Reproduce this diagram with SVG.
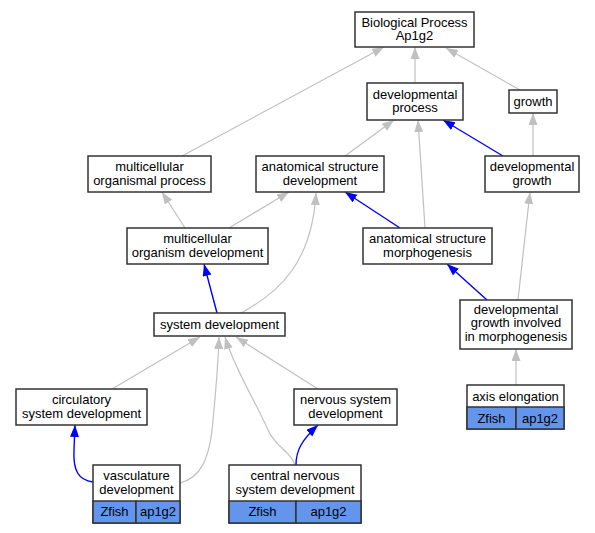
<svg xmlns="http://www.w3.org/2000/svg" width="595" height="533" viewBox="0 0 595 533">
<style>
  .box { fill: #ffffff; stroke: #333333; stroke-width: 1.5; }
  .cell { fill: #6495ED; stroke: #333333; stroke-width: 1.5; }
  text { font-family: "Liberation Sans", Arial, sans-serif; font-size: 13px; fill: #000; text-anchor: middle; }
  .g { fill: none; stroke: #c0c0c0; stroke-width: 1.2; marker-end: url(#ag); }
  .b { fill: none; stroke: #0000ff; stroke-width: 1.4; marker-end: url(#ab); }
</style>
<defs>
  <marker id="ag" markerUnits="userSpaceOnUse" markerWidth="13" markerHeight="10" refX="12" refY="4.5" orient="auto">
    <path d="M0,0 L12,4.5 L0,9 z" fill="#c0c0c0"/>
  </marker>
  <marker id="ab" markerUnits="userSpaceOnUse" markerWidth="13" markerHeight="10" refX="12" refY="4.5" orient="auto">
    <path d="M0,0 L12,4.5 L0,9 z" fill="#0000ff"/>
  </marker>
</defs>
<rect width="595" height="533" fill="#ffffff"/>
<g id="edges">
  <path class="g" d="M415,83 L415,47"/>
  <path class="g" d="M520,90 L446,48"/>
  <path class="g" d="M182,156 L384,47"/>
  <path class="g" d="M345,156 L394,120"/>
  <path class="g" d="M425,228 L418,120"/>
  <path class="b" d="M503,156 L443,120"/>
  <path class="g" d="M533,156 L533,113"/>
  <path class="g" d="M185,228 L162,192"/>
  <path class="g" d="M229,228 L289,192"/>
  <path class="b" d="M400,228 L345,192"/>
  <path class="b" d="M217,313 L204,264"/>
  <path class="g" d="M241,313 C280,292 312,262 316,193"/>
  <path class="b" d="M487,300 L447,264"/>
  <path class="g" d="M518,300 L530,192"/>
  <path class="g" d="M516,385 L516,349"/>
  <path class="g" d="M112,389 L200,337"/>
  <path class="g" d="M318,389 L236,337"/>
  <path class="g" d="M180,483 C200,478 210,460 213,420 C216,390 218,365 219,337"/>
  <path class="g" d="M295,465 C290,450 276,448 268,430 C255,400 235,370 225,337"/>
  <path class="b" d="M93,482 C78,480 73,470 74,450 L75,425"/>
  <path class="b" d="M296,465 C296,450 302,440 318,425"/>
</g>
<g id="n_bp">
  <rect class="box" x="355" y="12" width="119" height="35"/>
  <text x="414.5" y="26.5">Biological Process</text>
  <text x="414.5" y="40">Ap1g2</text>
</g>
<g id="n_dp">
  <rect class="box" x="367" y="83" width="96" height="37"/>
  <text x="415" y="98.5">developmental</text>
  <text x="415" y="112">process</text>
</g>
<g id="n_growth">
  <rect class="box" x="509" y="90" width="48" height="23"/>
  <text x="533" y="106">growth</text>
</g>
<g id="n_dg">
  <rect class="box" x="485" y="156" width="94" height="36"/>
  <text x="532" y="171">developmental</text>
  <text x="532" y="184.5">growth</text>
</g>
<g id="n_mop">
  <rect class="box" x="88" y="156" width="123" height="36"/>
  <text x="149.5" y="171">multicellular</text>
  <text x="149.5" y="184.5">organismal process</text>
</g>
<g id="n_asd">
  <rect class="box" x="256" y="156" width="128" height="36"/>
  <text x="320" y="171">anatomical structure</text>
  <text x="320" y="184.5">development</text>
</g>
<g id="n_mod">
  <rect class="box" x="127" y="228" width="141" height="36"/>
  <text x="197.5" y="243">multicellular</text>
  <text x="197.5" y="256.5">organism development</text>
</g>
<g id="n_asm">
  <rect class="box" x="363" y="228" width="129" height="36"/>
  <text x="427.5" y="243">anatomical structure</text>
  <text x="427.5" y="256.5">morphogenesis</text>
</g>
<g id="n_dgim">
  <rect class="box" x="460" y="300" width="112" height="49"/>
  <text x="516" y="313.5">developmental</text>
  <text x="516" y="327">growth involved</text>
  <text x="516" y="340.5">in morphogenesis</text>
</g>
<g id="n_sd">
  <rect class="box" x="154" y="313" width="131" height="23"/>
  <text x="219.5" y="328.5">system development</text>
</g>
<g id="n_circ">
  <rect class="box" x="16" y="389" width="131" height="36"/>
  <text x="81.5" y="404">circulatory</text>
  <text x="81.5" y="417.5">system development</text>
</g>
<g id="n_nsd">
  <rect class="box" x="294" y="389" width="103" height="36"/>
  <text x="345.5" y="404">nervous system</text>
  <text x="345.5" y="417.5">development</text>
</g>
<g id="n_vasc">
  <rect class="box" x="93" y="465" width="87" height="58"/>
  <text x="136.5" y="480">vasculature</text>
  <text x="136.5" y="493.5">development</text>
  <rect class="cell" x="93" y="501" width="43" height="22"/>
  <rect class="cell" x="136" y="501" width="44" height="22"/>
  <text x="114.5" y="516">Zfish</text>
  <text x="158" y="516">ap1g2</text>
</g>
<g id="n_cns">
  <rect class="box" x="229" y="465" width="132" height="58"/>
  <text x="295" y="480">central nervous</text>
  <text x="295" y="493.5">system development</text>
  <rect class="cell" x="229" y="501" width="67" height="22"/>
  <rect class="cell" x="296" y="501" width="65" height="22"/>
  <text x="262.5" y="516">Zfish</text>
  <text x="328.5" y="516">ap1g2</text>
</g>
<g id="n_axis">
  <rect class="box" x="467" y="385" width="97" height="44"/>
  <text x="515.5" y="400.5">axis elongation</text>
  <rect class="cell" x="467" y="407" width="49" height="22"/>
  <rect class="cell" x="516" y="407" width="48" height="22"/>
  <text x="491.5" y="422.5">Zfish</text>
  <text x="540" y="422.5">ap1g2</text>
</g>
</svg>
